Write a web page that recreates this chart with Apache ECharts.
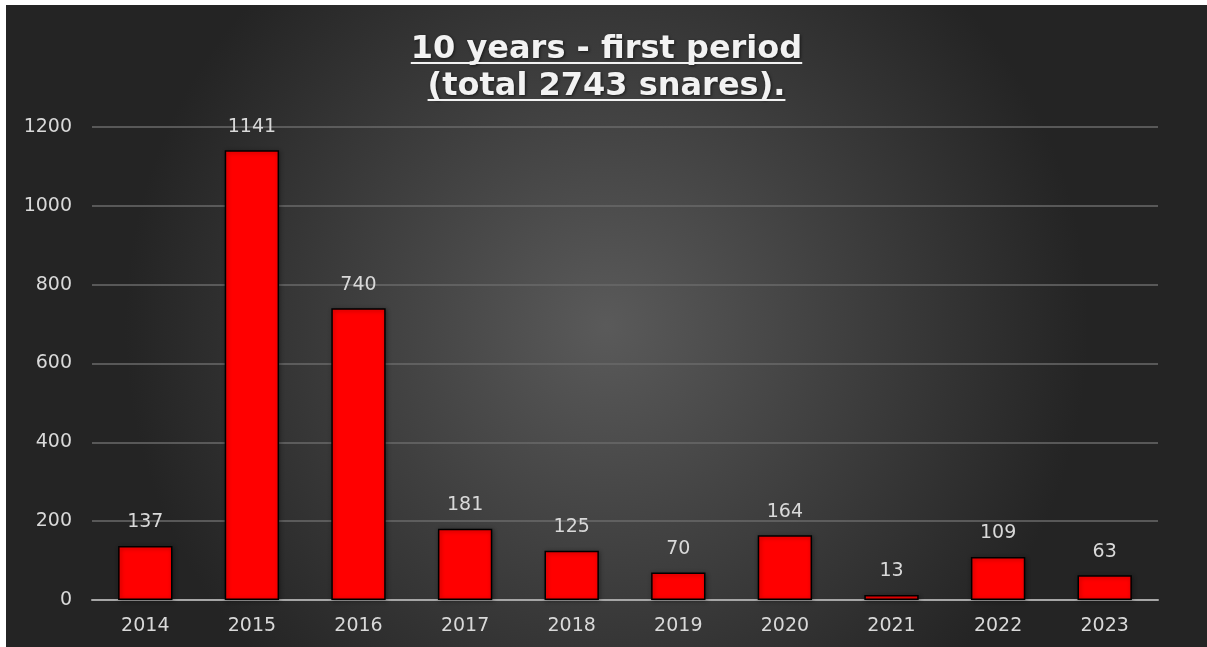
<!DOCTYPE html>
<html>
<head>
<meta charset="utf-8">
<script src="https://cdn.jsdelivr.net/npm/echarts@6/dist/echarts.min.js"></script>
<style>
    html, body { margin: 0; padding: 0; background: #ffffff; }
    #chart { position: absolute; left: 6px; top: 5px; width: 1201px; height: 642px; }
</style>
</head>
<body>
<div id="chart"></div>
<script>
// values
const years = ["2014", "2015", "2016", "2017", "2018", "2019", "2020", "2021", "2022", "2023"];
const snares = [137, 1141, 740, 181, 125, 70, 164, 13, 109, 63];
const titleLines = ["10 years - first period", "(total 2743 snares)."];

const FONT = "'DejaVu Sans', sans-serif";
const TITLE_SIZE = 32;
const W = 1201;

// measure title lines so the underline fits the text
const ctx = document.createElement("canvas").getContext("2d");
ctx.font = "bold " + TITLE_SIZE + "px 'DejaVu Sans', sans-serif";
const underlines = titleLines.map((t, i) => {
    const w = ctx.measureText(t).width;
    const y = 58 + i * 37;
    return {
        type: "line",
        shape: { x1: W / 2 - w / 2, y1: y, x2: W / 2 + w / 2, y2: y },
        style: { stroke: "#f2f2f2", lineWidth: 2 },
        z: 10
    };
});

const myChart = echarts.init(document.getElementById("chart"));
const option = {
    backgroundColor: {
        type: "radial",
        x: 0.5, y: 0.5, r: 0.75,
        colorStops: [
            { offset: 0, color: "#5a5a5a" },
            { offset: 1, color: "#242424" }
        ]
    },
    title: {
        text: titleLines.join("\n"),
        left: "center",
        top: 21,
        textStyle: {
            color: "#f2f2f2",
            fontFamily: "'DejaVu Sans', sans-serif",
            fontWeight: "bold",
            fontSize: TITLE_SIZE,
            lineHeight: 37,
            textShadowColor: "rgba(0,0,0,0.6)",
            textShadowBlur: 3,
            textShadowOffsetX: 1,
            textShadowOffsetY: 1
        }
    },
    graphic: underlines,
    grid: { left: 86, right: 49, top: 122, bottom: 47 },
    xAxis: {
        type: "category",
        data: years,
        axisLine: { lineStyle: { color: "#a6a6a6", width: 2 } },
        axisTick: { show: false },
        axisLabel: { color: "#d9d9d9", fontSize: 19, fontFamily: FONT, margin: 17 }
    },
    yAxis: {
        type: "value",
        min: 0,
        max: 1200,
        interval: 200,
        axisLine: { show: false },
        axisTick: { show: false },
        axisLabel: {
            color: "#d9d9d9",
            fontSize: 19,
            fontFamily: FONT,
            margin: 20,
            formatter: v => String(v)
        },
        splitLine: { lineStyle: { color: "#6a6a6a", width: 1.5 } }
    },
    series: [{
        type: "bar",
        data: snares,
        barWidth: "51%",
        itemStyle: {
            color: "#ff0000",
            borderColor: "#000000",
            borderWidth: 1.5,
            shadowColor: "rgba(0,0,0,0.35)",
            shadowBlur: 4,
            shadowOffsetX: 1,
            shadowOffsetY: 1
        },
        label: {
            show: true,
            position: "top",
            distance: 14,
            color: "#d9d9d9",
            fontSize: 19,
            fontFamily: FONT
        }
    }]
};
myChart.setOption(option);
</script>
</body>
</html>
